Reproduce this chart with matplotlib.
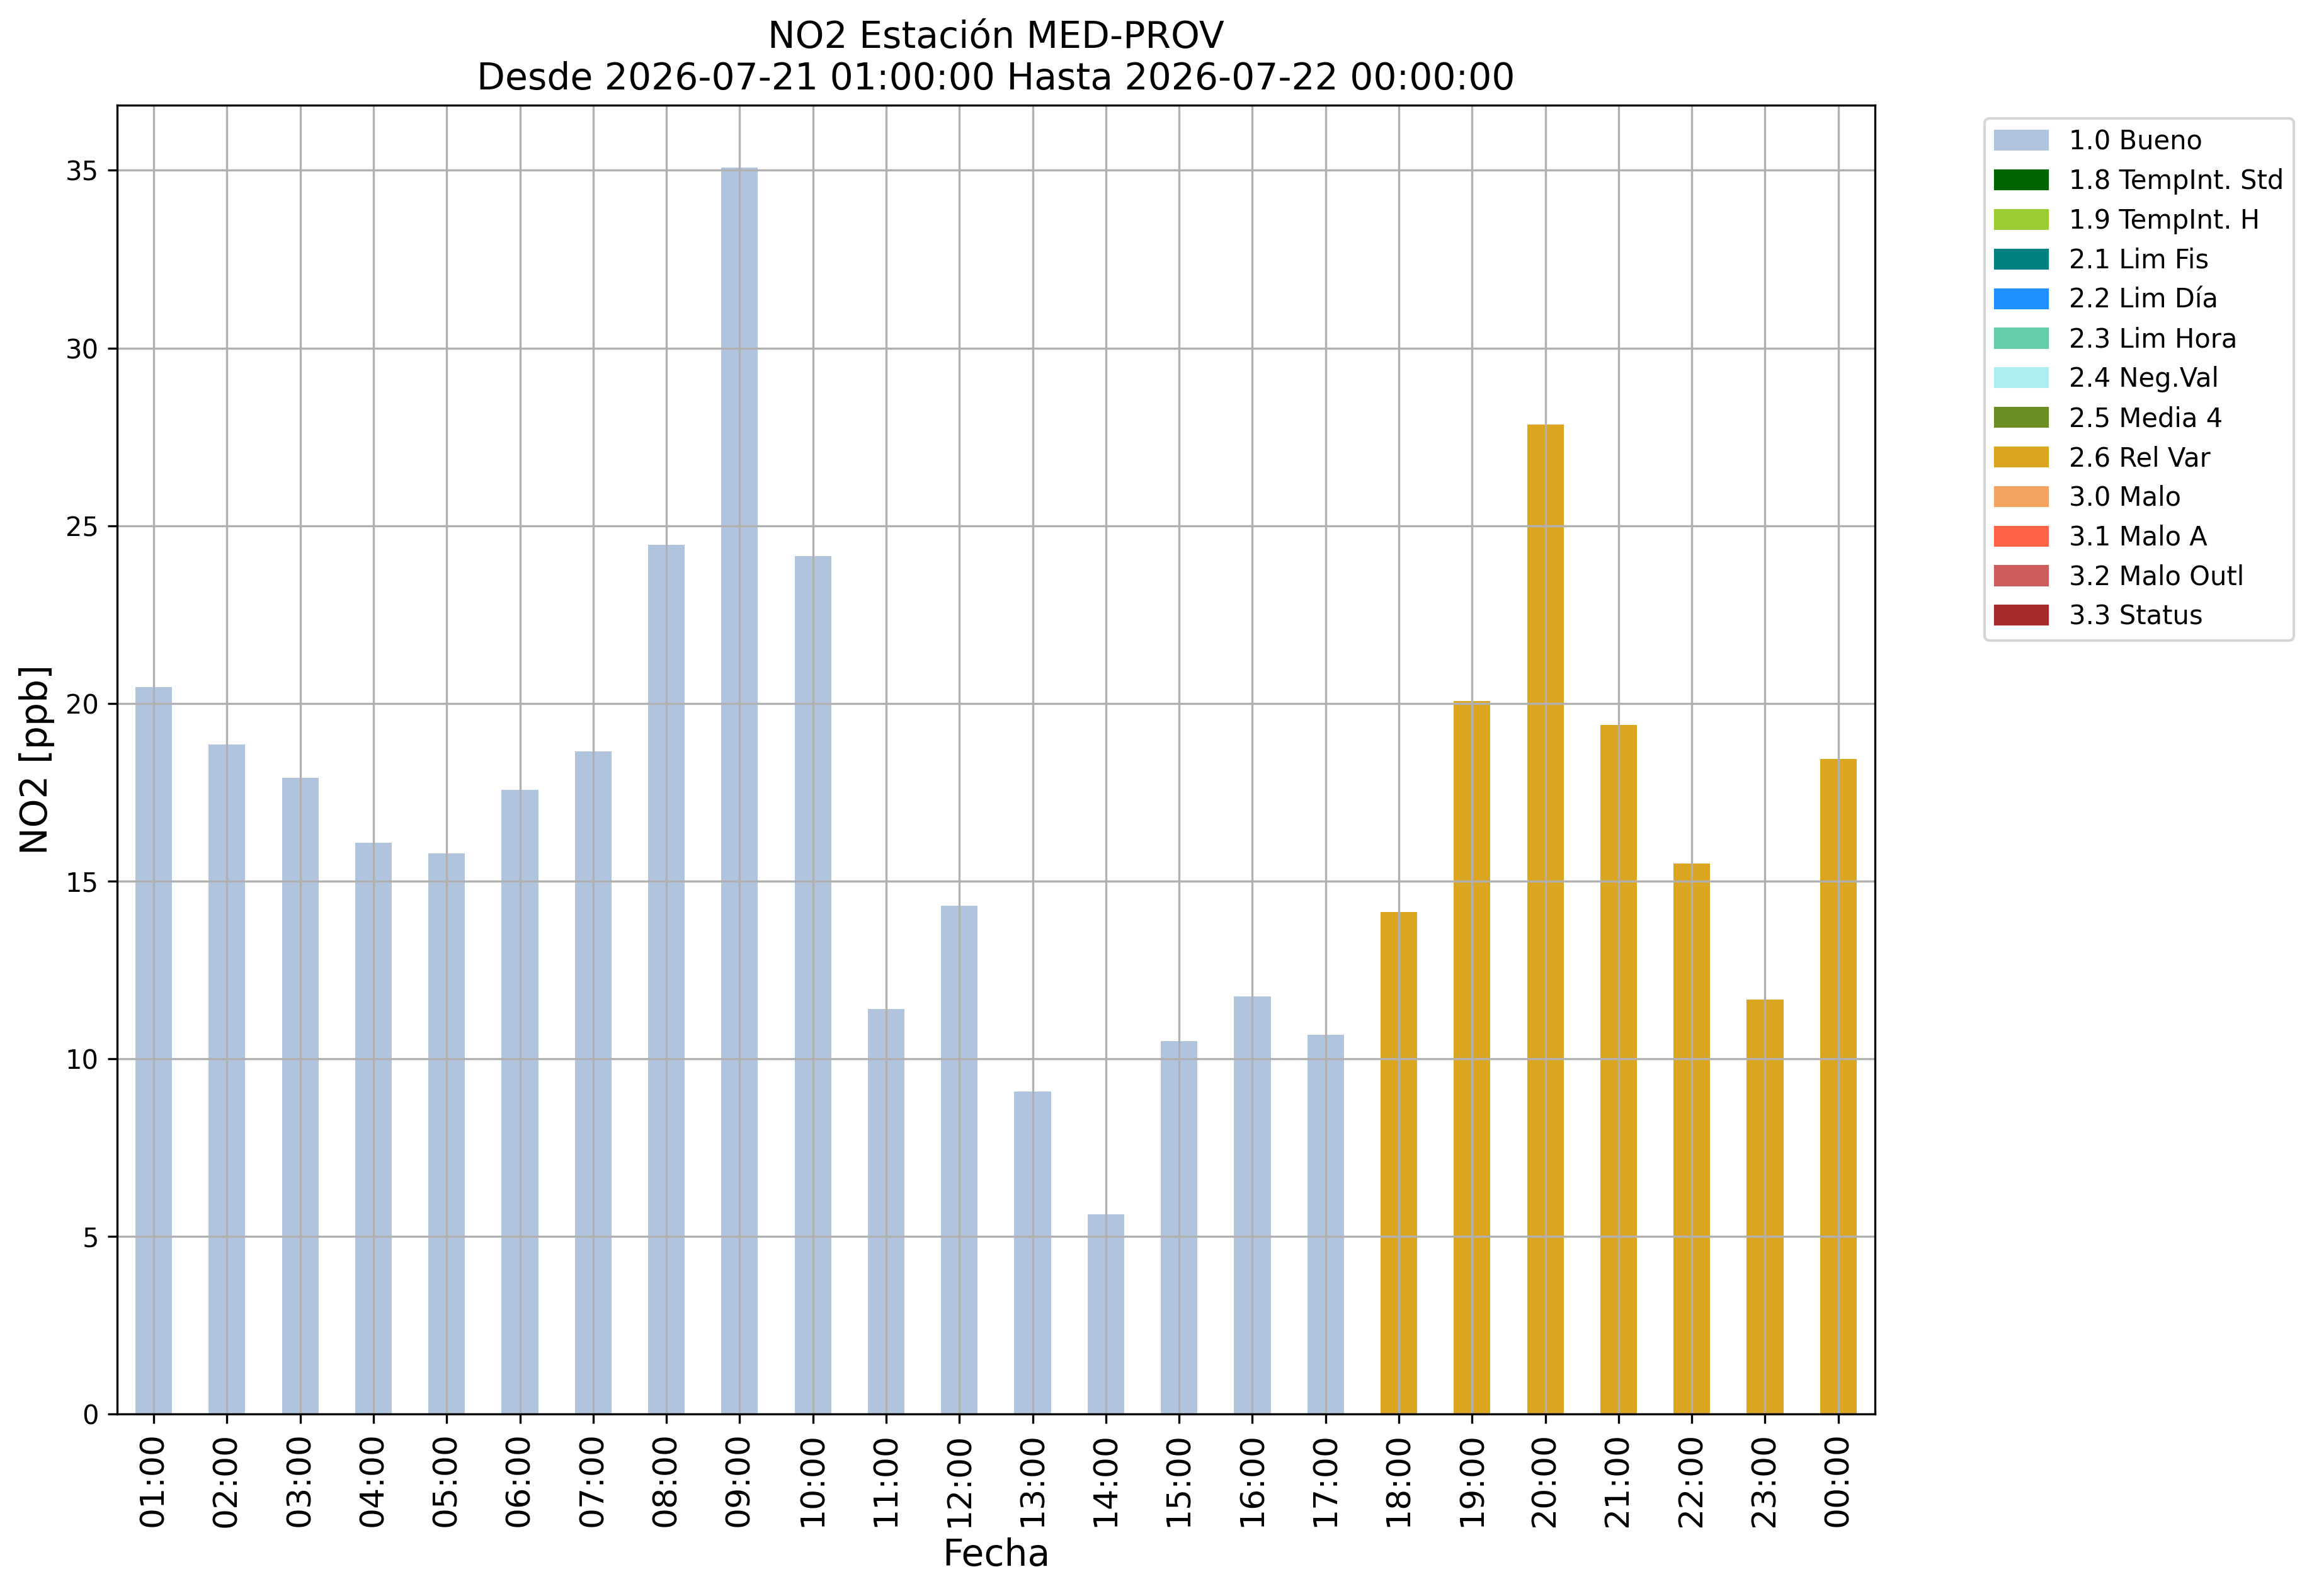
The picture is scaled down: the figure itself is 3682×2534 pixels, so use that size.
"""
NO2 hourly bar chart, coloured by validation flag.
"""

import matplotlib
matplotlib.use("Agg")
import matplotlib.pyplot as plt
from matplotlib.patches import Patch

# hourly labels and NO2 values [ppb]
hours = ["01:00", "02:00", "03:00", "04:00", "05:00", "06:00", "07:00", "08:00",
         "09:00", "10:00", "11:00", "12:00", "13:00", "14:00", "15:00", "16:00",
         "17:00", "18:00", "19:00", "20:00", "21:00", "22:00", "23:00", "00:00"]
no2 = [20.45, 18.85, 17.9, 16.07, 15.77, 17.57, 18.65, 24.47,
       35.08, 24.14, 11.4, 14.3, 9.07, 5.62, 10.5, 11.75,
       10.68, 14.12, 20.06, 27.84, 19.4, 15.5, 11.66, 18.43]
# validation flag per hour
flags = ["1.0 Bueno"] * 17 + ["2.6 Rel Var"] * 7

# flag categories and their colours
flag_names = ["1.0 Bueno", "1.8 TempInt. Std", "1.9 TempInt. H", "2.1 Lim Fis",
              "2.2 Lim Día", "2.3 Lim Hora", "2.4 Neg.Val", "2.5 Media 4",
              "2.6 Rel Var", "3.0 Malo", "3.1 Malo A", "3.2 Malo Outl", "3.3 Status"]
flag_colors = ["lightsteelblue", "darkgreen", "yellowgreen", "teal",
               "dodgerblue", "mediumaquamarine", "paleturquoise", "olivedrab",
               "goldenrod", "sandybrown", "tomato", "indianred", "brown"]
color_of = dict(zip(flag_names, flag_colors))

fig = plt.figure(figsize=(3682 / 300, 2534 / 300), dpi=300)
ax = fig.add_axes([0.0505, 0.1140, 0.758, 0.8201])

x = list(range(len(hours)))
ax.bar(x, no2, width=0.5, color=[color_of[f] for f in flags])
ax.set_xlim(-0.5, len(hours) - 0.5)
ax.set_xticks(x)
ax.set_xticklabels(hours, rotation=90, fontsize=12.5)
ax.tick_params(axis="y", labelsize=10)
ax.grid(True, color="#b0b0b0")

ax.set_xlabel("Fecha", fontsize=14)
ax.set_ylabel("NO2 [ppb]", fontsize=14)
ax.set_title("NO2 Estación MED-PROV\nDesde 2026-07-21 01:00:00 Hasta 2026-07-22 00:00:00",
             fontsize=14)

handles = [Patch(color=c, label=n) for n, c in zip(flag_names, flag_colors)]
ax.legend(handles=handles, bbox_to_anchor=(1.055, 1), loc="upper left", fontsize=10)

fig.savefig("out.png", dpi=300)
plt.close(fig)
